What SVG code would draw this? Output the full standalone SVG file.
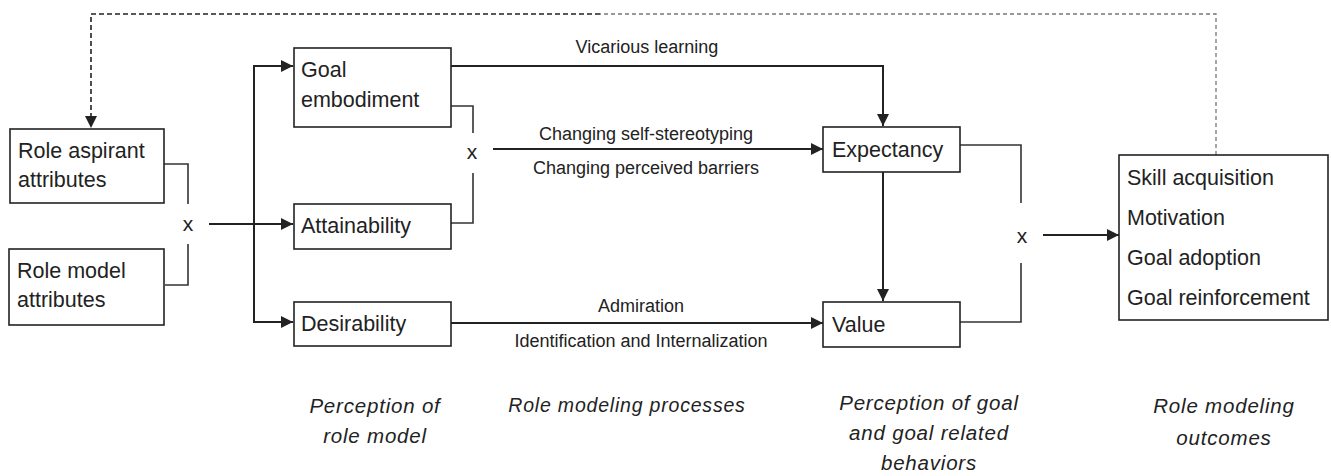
<svg xmlns="http://www.w3.org/2000/svg" width="1331" height="476" viewBox="0 0 1331 476">
<style>
.box{fill:#fff;stroke:#222;stroke-width:1.6}
.t{font-family:"Liberation Sans",Arial,sans-serif;font-size:21.5px;fill:#222}
.lbl{font-family:"Liberation Sans",Arial,sans-serif;font-size:18px;fill:#222;text-anchor:middle}
.it{font-family:"Liberation Sans",Arial,sans-serif;font-size:20.5px;font-style:italic;fill:#222;text-anchor:middle;letter-spacing:0.8px}
.ln{fill:none;stroke:#222;stroke-width:2}
.br{fill:none;stroke:#333;stroke-width:1.6}
.x{font-family:"Liberation Sans",Arial,sans-serif;font-size:21px;fill:#222;text-anchor:middle}
</style>
<defs>
<marker id="ah" markerUnits="userSpaceOnUse" markerWidth="12" markerHeight="12" viewBox="0 0 12 12" refX="12" refY="6" orient="auto">
<path d="M0,0 L12,6 L0,12 z" fill="#222"/>
</marker>
</defs>
<g id="connectors">
<path d="M1216,155 V14 H600" fill="none" stroke="#777" stroke-width="1.3" stroke-dasharray="4,3"/>
<path d="M600,14 H91 V128" fill="none" stroke="#222" stroke-width="1.6" stroke-dasharray="5,3" marker-end="url(#ah)"/>
<path class="br" d="M164,164 H188 V204 M188,244 V285 H165"/>
<path class="ln" d="M209,224 H293" marker-end="url(#ah)"/>
<path class="ln" d="M293,66 H254 V322 H293" marker-end="url(#ah)"/>
<path class="ln" d="M254,66 H293" marker-end="url(#ah)"/>
<path class="ln" d="M451,66 H883 V126" marker-end="url(#ah)"/>
<path class="br" d="M451,106 H473 V133 M473,173 V223 H451"/>
<path class="ln" d="M493,149 H823" marker-end="url(#ah)"/>
<path class="ln" d="M883,172 V301" marker-end="url(#ah)"/>
<path class="ln" d="M451,323 H823" marker-end="url(#ah)"/>
<path class="br" d="M960,145 H1021 V203 M1021,263 V322 H960"/>
<path class="ln" d="M1043,235 H1119" marker-end="url(#ah)"/>
<text class="x" x="188" y="231">x</text>
<text class="x" x="472" y="159">x</text>
<text class="x" x="1022" y="243">x</text>
<text class="lbl" x="647" y="53">Vicarious learning</text>
<text class="lbl" x="646" y="140">Changing self-stereotyping</text>
<text class="lbl" x="646" y="174">Changing perceived barriers</text>
<text class="lbl" x="641" y="312">Admiration</text>
<text class="lbl" x="641" y="347">Identification and Internalization</text>
</g>
<g id="role-aspirant">
<rect class="box" x="10" y="129" width="154" height="74"/>
<text class="t" x="18" y="158">Role aspirant</text>
<text class="t" x="18" y="187">attributes</text>
</g>
<g id="role-model">
<rect class="box" x="9" y="249" width="155" height="76"/>
<text class="t" x="17" y="278">Role model</text>
<text class="t" x="17" y="307">attributes</text>
</g>
<g id="goal-embodiment">
<rect class="box" x="294" y="48" width="157" height="79"/>
<text class="t" x="301" y="77">Goal</text>
<text class="t" x="301" y="107">embodiment</text>
</g>
<g id="attainability">
<rect class="box" x="294" y="204" width="157" height="45"/>
<text class="t" x="301" y="233">Attainability</text>
</g>
<g id="desirability">
<rect class="box" x="294" y="302" width="157" height="44"/>
<text class="t" x="301" y="331">Desirability</text>
</g>
<g id="expectancy">
<rect class="box" x="823" y="127" width="137" height="45"/>
<text class="t" x="832" y="157">Expectancy</text>
</g>
<g id="value">
<rect class="box" x="823" y="302" width="137" height="45"/>
<text class="t" x="832" y="332">Value</text>
</g>
<g id="outcomes">
<rect class="box" x="1119" y="155" width="209" height="165"/>
<text class="t" x="1127" y="185">Skill acquisition</text>
<text class="t" x="1127" y="225">Motivation</text>
<text class="t" x="1127" y="265">Goal adoption</text>
<text class="t" x="1127" y="305">Goal reinforcement</text>
</g>
<g id="column-labels">
<text class="it" x="375" y="413">Perception of</text>
<text class="it" x="375" y="443">role model</text>
<text class="it" x="627" y="412" style="font-size:19.5px">Role modeling processes</text>
<text class="it" x="929" y="410">Perception of goal</text>
<text class="it" x="929" y="440">and goal related</text>
<text class="it" x="929" y="470">behaviors</text>
<text class="it" x="1224" y="413">Role modeling</text>
<text class="it" x="1224" y="445">outcomes</text>
</g>
</svg>
